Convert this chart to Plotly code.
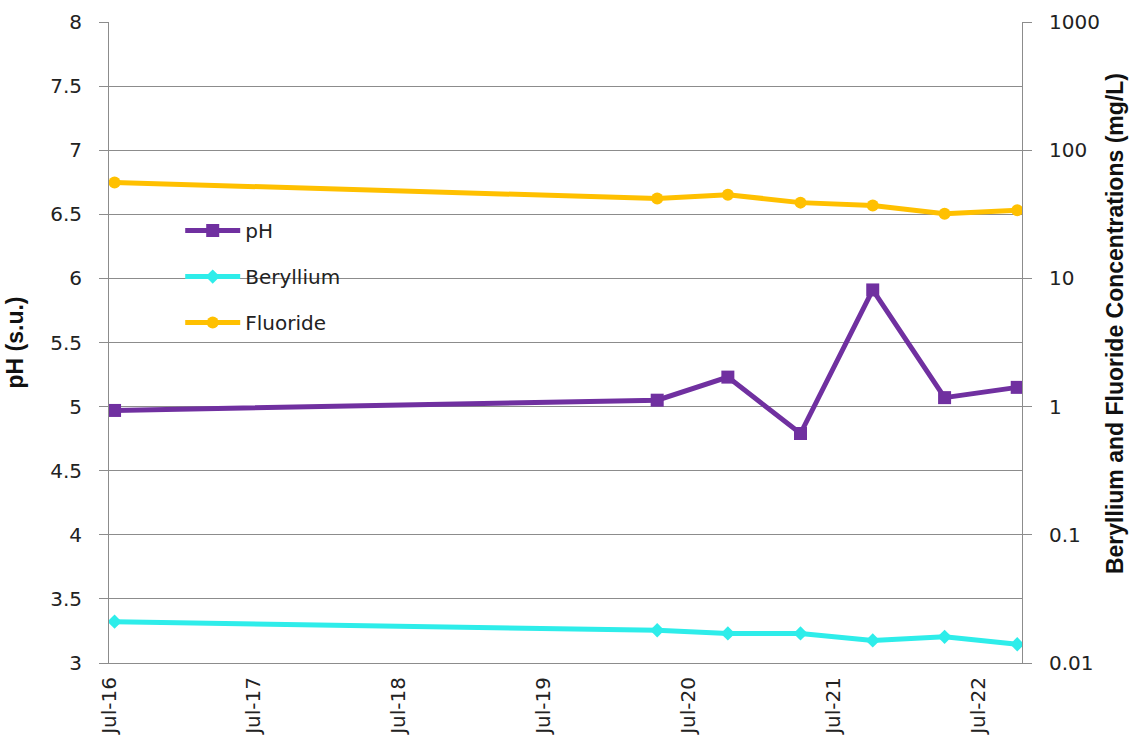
import plotly.graph_objects as go

# Sampling dates and measured values
sample_dates = ["2016-07-15", "2020-04-12", "2020-10-07", "2021-04-08",
                "2021-10-07", "2022-04-06", "2022-10-06"]
ph_values = [4.97, 5.05, 5.23, 4.79, 5.91, 5.07, 5.15]
beryllium_mg_l = [0.021, 0.018, 0.017, 0.017, 0.015, 0.016, 0.014]
fluoride_mg_l = [56, 42, 45, 39, 37, 32, 34]

# Axis tick labels
x_tick_dates = ["2016-07-01", "2017-07-01", "2018-07-01", "2019-07-01",
                "2020-07-01", "2021-07-01", "2022-07-01"]
x_tick_labels = ["Jul-16", "Jul-17", "Jul-18", "Jul-19", "Jul-20", "Jul-21", "Jul-22"]
ph_ticks = [3, 3.5, 4, 4.5, 5, 5.5, 6, 6.5, 7, 7.5, 8]
conc_ticks = [0.01, 0.1, 1, 10, 100, 1000]
conc_tick_labels = ["0.01", "0.1", "1", "10", "100", "1000"]

PURPLE = "#7030A0"
CYAN = "#2EEDEA"
GOLD = "#FFC000"
GRID = "#8C8C8C"
TEXT_FAMILY = "DejaVu Sans, Verdana, sans-serif"
TICK_FONT = dict(family=TEXT_FAMILY, size=20, color="#222222")
XTICK_FONT = dict(family=TEXT_FAMILY, size=20, color="#222222")
TITLE_FONT = dict(family="Liberation Sans, Arial, sans-serif", size=23, color="#111111")

fig = go.Figure()

fig.add_trace(go.Scatter(
    x=sample_dates, y=ph_values, name="pH", legendgroup="a",
    mode="lines+markers",
    line=dict(color=PURPLE, width=5),
    marker=dict(symbol="square", size=13, color=PURPLE),
    yaxis="y",
))
fig.add_trace(go.Scatter(
    x=sample_dates, y=beryllium_mg_l, name="Beryllium", legendgroup="b",
    mode="lines+markers",
    line=dict(color=CYAN, width=5),
    marker=dict(symbol="diamond", size=11, color=CYAN),
    yaxis="y2",
))
fig.add_trace(go.Scatter(
    x=sample_dates, y=fluoride_mg_l, name="Fluoride", legendgroup="c",
    mode="lines+markers",
    line=dict(color=GOLD, width=5),
    marker=dict(symbol="circle", size=12, color=GOLD),
    yaxis="y2",
))

fig.update_layout(
    width=1130, height=746,
    margin=dict(l=109, r=108, t=22, b=83),
    paper_bgcolor="white", plot_bgcolor="white",
    showlegend=True,
    legend=dict(
        x=0.078, y=0.705, xanchor="left", yanchor="top",
        bgcolor="rgba(0,0,0,0)",
        font=dict(family=TEXT_FAMILY, size=20, color="#222222"),
        tracegroupgap=17,
        itemwidth=55,
    ),
    xaxis=dict(
        type="date",
        range=["2016-07-01", "2022-10-18"],
        tickvals=x_tick_dates, ticktext=x_tick_labels,
        tickangle=-90,
        tickfont=XTICK_FONT,
        ticklabelstandoff=5,
        showgrid=False,
        showline=True, linecolor=GRID, linewidth=1,
        ticks="", zeroline=False,
        automargin=False,
    ),
    yaxis=dict(
        range=[3, 8],
        tickvals=ph_ticks,
        ticktext=[f"{v:g}" for v in ph_ticks],
        tickfont=TICK_FONT,
        ticklabelstandoff=13,
        showgrid=True, gridcolor=GRID, gridwidth=1,
        showline=True, linecolor=GRID, linewidth=1,
        ticks="outside", ticklen=9, tickcolor=GRID,
        zeroline=False,
        automargin=False,
        title=dict(text="<b>pH (s.u.)</b>", font=TITLE_FONT, standoff=20),
    ),
    yaxis2=dict(
        type="log",
        range=[-2, 3],
        overlaying="y", side="right",
        tickvals=conc_ticks, ticktext=conc_tick_labels,
        tickfont=TICK_FONT,
        ticklabelstandoff=13,
        showgrid=False,
        showline=True, linecolor=GRID, linewidth=1,
        ticks="outside", ticklen=9, tickcolor=GRID,
        zeroline=False,
        automargin=False,
    ),
    annotations=[
        # right-hand axis title
        dict(text="<b>Beryllium and Fluoride Concentrations (mg/L)</b>",
             xref="paper", yref="paper", x=1.102, y=0.529,
             xanchor="center", yanchor="middle", textangle=-90,
             showarrow=False, font=TITLE_FONT),
    ],
    shapes=[
        # white backing panel behind the legend, above the gridlines
        dict(type="rect", xref="paper", yref="paper",
             x0=0.028, x1=0.30, y0=0.47, y1=0.73,
             fillcolor="white", line=dict(width=0), layer="between"),
    ],
)

fig.write_html("out.html")
